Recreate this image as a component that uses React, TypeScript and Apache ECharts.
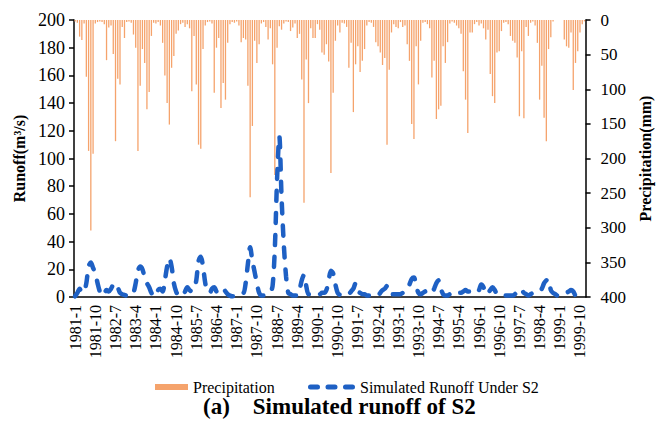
import React, { useEffect, useRef } from "react";
import * as echarts from "echarts";

// Monthly series, January 1981 to December 1999
const years = [1981, 1982, 1983, 1984, 1985, 1986, 1987, 1988, 1989, 1990, 1991, 1992, 1993, 1994, 1995, 1996, 1997, 1998, 1999];
const monthNumbers = [1, 2, 3, 4, 5, 6, 7, 8, 9, 10, 11, 12];
const months: string[] = [];
years.forEach((y) => monthNumbers.forEach((m) => months.push(`${y}-${m}`)));

// Monthly precipitation (mm), one row per year
const precipitation = [
  2, 4, 24, 29, 5, 82, 189, 304, 193, 5, 3, 2,
  3, 6, 58, 11, 8, 49, 175, 85, 93, 10, 26, 3,
  2, 4, 21, 40, 189, 95, 42, 62, 129, 104, 23, 4,
  5, 3, 8, 33, 80, 120, 151, 69, 52, 20, 15, 6,
  4, 10, 6, 12, 103, 23, 93, 180, 186, 42, 8, 3,
  2, 5, 105, 40, 26, 127, 91, 115, 33, 6, 3, 4,
  2, 8, 32, 26, 28, 95, 256, 153, 30, 62, 35, 5,
  3, 10, 28, 12, 64, 224, 40, 9, 14, 5, 2, 3,
  16, 11, 5, 26, 20, 86, 264, 57, 120, 12, 26, 26,
  6, 14, 47, 50, 35, 60, 221, 105, 30, 8, 18, 4,
  5, 10, 69, 33, 133, 64, 38, 75, 59, 42, 8, 3,
  4, 10, 32, 38, 47, 65, 55, 180, 72, 18, 6, 10,
  12, 3, 10, 8, 35, 59, 150, 172, 38, 93, 30, 4,
  3, 6, 12, 83, 59, 143, 129, 124, 38, 62, 32, 5,
  2, 4, 8, 12, 20, 74, 115, 163, 18, 18, 6, 3,
  8, 5, 12, 28, 14, 78, 110, 120, 47, 45, 16, 4,
  3, 6, 23, 30, 33, 54, 139, 45, 142, 10, 23, 4,
  2, 8, 33, 115, 66, 141, 175, 42, 25, 2, 0, 0,
  0, 0, 28, 38, 40, 18, 101, 62, 45, 18, 6, 2,
];

// Simulated monthly runoff under scenario S2 (m³/s)
const runoffS2 = [
  0.5, 3, 6, 3, 4, 10, 22, 25, 21, 17, 10, 4,
  1, 2, 5, 4, 6, 9, 10, 7, 3, 2, 1.5, 1,
  1, 1, 3, 10, 19, 22, 20, 14, 10, 7, 3, 0.5,
  1, 5, 6, 4, 12, 22, 28, 22, 10, 4, 1, 0.5,
  1, 4, 7, 5, 4, 6, 12, 26, 29, 22, 10, 4,
  3, 6, 7, 4, 3, 5, 6, 4, 2, 1, 0.5, 0.5,
  1, 2, 3, 3, 10, 24, 36, 26, 18, 10, 3, 1,
  1, 3, 4, 4, 8, 35, 85, 116, 72, 38, 15, 3,
  2, 1, 1, 1, 5, 12, 16, 8, 2, 2, 3, 2,
  2, 2, 3, 3, 5, 12, 19, 17, 9, 3, 1.5, 1,
  1, 1, 2, 4, 6, 10, 4, 3, 2, 2, 1, 1,
  1, 0.5, 0.5, 1, 3, 5, 6, 8, 3, 2, 2, 2,
  2, 2, 3, 4, 5, 9, 13, 14, 8, 3, 2, 3,
  4, 5, 4, 3, 6, 10, 12, 6, 2, 1, 1, 2,
  1, 1, 2, 3, 3, 4, 5, 4, 4, 3, 3, 3,
  5, 9, 7, 2, 3, 5, 7, 5, 2, 1, 1, 1,
  1, 1, 1, 1, 2, 4, 6, 5, 3, 2, 1, 2,
  3, 4, 4, 4, 6, 10, 12, 13, 5, 3, 2, 1,
  1, 1, 2, 3, 4, 5, 4, 1, 0.5, 0.5, 0.5, 0.5,
];

const SERIF = "Liberation Serif";
const BLUE = "#1e60c4";
const ORANGE = "#f5a36c";

// Three rounded dashes for the runoff legend marker
const DASH_ICON =
  "path://M2.5,0H9.5A2.5,2.5,0,0,1,9.5,5H2.5A2.5,2.5,0,0,1,2.5,0Z" +
  "M20,0H27A2.5,2.5,0,0,1,27,5H20A2.5,2.5,0,0,1,20,0Z" +
  "M37.5,0H44.5A2.5,2.5,0,0,1,44.5,5H37.5A2.5,2.5,0,0,1,37.5,0Z";

export default function App() {
  const ref = useRef<HTMLDivElement>(null);

  useEffect(() => {
    if (!ref.current) return;
    const chart = echarts.init(ref.current, undefined, { renderer: "svg" });
    const axisStyle = { color: "#000", width: 1.5 };
    const label = (size: number, weight: string = "normal") => ({
      fontFamily: SERIF,
      fontSize: size,
      fontWeight: weight,
      color: "#000",
    });
    chart.setOption({
      animation: false,
      backgroundColor: "#fff",
      textStyle: { fontFamily: SERIF, color: "#000" },
      title: {
        text: "(a)    Simulated runoff of S2",
        left: 203,
        top: 395,
        padding: 0,
        textStyle: label(23, "bold"),
      },
      legend: [
        {
          data: [{ name: "Precipitation", icon: "rect" }],
          left: 150,
          top: 374,
          itemWidth: 33,
          itemHeight: 6,
          itemGap: 0,
          textStyle: label(16),
        },
        {
          data: [{ name: "Simulated Runoff Under S2", icon: DASH_ICON }],
          left: 303,
          top: 374,
          itemWidth: 47,
          itemHeight: 5,
          itemGap: 0,
          textStyle: label(16),
        },
      ],
      grid: { left: 74, right: 63, top: 20, bottom: 139, containLabel: false },
      xAxis: {
        type: "category",
        data: months,
        boundaryGap: true,
        axisLine: { lineStyle: axisStyle },
        axisTick: { interval: 6, length: 5, lineStyle: axisStyle },
        axisLabel: { interval: 8, rotate: 90, margin: 8, ...label(16) },
        splitLine: { show: false },
      },
      yAxis: [
        {
          type: "value",
          min: 0,
          max: 200,
          interval: 20,
          name: "Runoff(m³/s)",
          nameLocation: "middle",
          nameGap: 46,
          nameRotate: 90,
          nameTextStyle: label(16, "bold"),
          axisLine: { show: true, lineStyle: axisStyle },
          axisTick: { show: true, length: 5, lineStyle: axisStyle },
          axisLabel: { margin: 9, ...label(18) },
          splitLine: { show: false },
        },
        {
          type: "value",
          position: "right",
          inverse: true,
          min: 0,
          max: 400,
          interval: 50,
          name: "Precipitation(mm)",
          nameLocation: "middle",
          nameGap: 44,
          nameRotate: 90,
          nameTextStyle: label(16, "bold"),
          axisLine: { show: true, lineStyle: axisStyle },
          axisTick: { show: true, length: 5, lineStyle: axisStyle },
          axisLabel: { margin: 15, ...label(17) },
          splitLine: { show: false },
        },
      ],
      series: [
        {
          name: "Precipitation",
          type: "bar",
          yAxisIndex: 1,
          data: precipitation,
          barWidth: 1.3,
          itemStyle: { color: ORANGE },
          z: 1,
        },
        {
          name: "Simulated Runoff Under S2",
          type: "line",
          yAxisIndex: 0,
          data: runoffS2,
          smooth: 0.3,
          symbol: "none",
          itemStyle: { color: BLUE },
          lineStyle: { color: BLUE, width: 4.5, type: [10, 12], cap: "round" },
          z: 3,
        },
      ],
    });
    return () => chart.dispose();
  }, []);

  return (
    <div
      ref={ref}
      style={{ position: "fixed", left: 0, top: 0, width: 661, height: 436, background: "#fff" }}
    />
  );
}
